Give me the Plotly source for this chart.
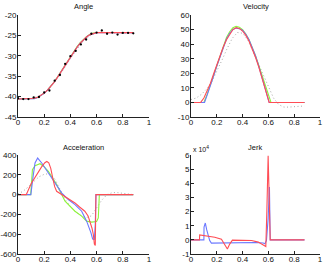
import plotly.graph_objects as go

# ---------------- Angle ----------------
angle_dot_t = [0.00, 0.04, 0.08, 0.12, 0.16, 0.20, 0.24, 0.28, 0.32, 0.36, 0.40, 0.44,
               0.48, 0.52, 0.56, 0.60, 0.64, 0.68, 0.72, 0.76, 0.80, 0.84, 0.88]
angle_dot_v = [-40.4, -40.6, -40.6, -40.2, -40.1, -39.0, -38.5, -36.1, -34.7, -32.0, -30.1, -28.8,
               -27.2, -26.0, -24.6, -24.3, -23.8, -24.6, -24.3, -24.8, -24.4, -24.4, -24.5]

angle_gray_t = angle_dot_t
angle_gray_v = [-40.6, -40.6, -40.5, -40.3, -39.9, -39.2, -38.0, -36.5, -34.7, -32.7, -30.7, -28.8,
                -27.1, -25.8, -24.9, -24.4, -24.2, -24.3, -24.4, -24.5, -24.5, -24.5, -24.5]

angle_fit_t = [0.0, 0.075, 0.1, 0.125, 0.15, 0.175, 0.2, 0.225, 0.25, 0.275, 0.3, 0.325, 0.35,
               0.375, 0.4, 0.425, 0.45, 0.475, 0.5, 0.525, 0.55, 0.575, 0.6, 0.88]
angle_red_v = [-40.6, -40.6, -40.56, -40.42, -40.15, -39.74, -39.16, -38.42, -37.53, -36.5, -35.35,
               -34.12, -32.83, -31.53, -30.26, -29.05, -27.93, -26.92, -26.05, -25.34, -24.81,
               -24.47, -24.32, -24.32]
angle_blue_v = [-40.6, -40.6, -40.6, -40.5, -40.22, -39.78, -39.18, -38.42, -37.52, -36.48, -35.33,
                -34.1, -32.82, -31.53, -30.26, -29.05, -27.93, -26.92, -26.05, -25.34, -24.81,
                -24.47, -24.32, -24.32]
angle_green_v = [-40.6, -40.6, -40.6, -40.48, -40.2, -39.76, -39.16, -38.39, -37.47, -36.42, -35.25,
                 -34.0, -32.7, -31.4, -30.12, -28.92, -27.8, -26.8, -25.94, -25.24, -24.74,
                 -24.42, -24.3, -24.3]

# ---------------- Velocity ----------------
vel_red_t = [0.0, 0.075, 0.1, 0.125, 0.15, 0.175, 0.2, 0.225, 0.25, 0.275, 0.3, 0.325, 0.35,
             0.375, 0.4, 0.425, 0.45, 0.475, 0.5, 0.525, 0.55, 0.575, 0.6, 0.606, 0.88]
vel_red_v = [0, 0, 3, 8, 13, 19.5, 26, 32, 38, 43, 47, 50, 51.3, 50.8, 49, 46, 42, 37, 31,
             24.5, 17, 9.5, 2, 0, 0]
vel_blue_t = [0.0, 0.105, 0.125, 0.15, 0.175, 0.2, 0.225, 0.25, 0.275, 0.3, 0.325, 0.35,
              0.375, 0.4, 0.425, 0.45, 0.475, 0.5, 0.525, 0.55, 0.575, 0.6, 0.606, 0.88]
vel_blue_v = [0, 0, 5, 11, 18, 25, 31.5, 38, 43.5, 47.5, 50, 51, 50.6, 49.5, 46.8, 43, 38, 32,
              25, 17, 9.5, 2, 0, 0]
vel_green_t = [0.0, 0.1, 0.125, 0.15, 0.175, 0.2, 0.225, 0.25, 0.275, 0.3, 0.325, 0.35,
               0.375, 0.4, 0.425, 0.45, 0.475, 0.5, 0.525, 0.55, 0.575, 0.6, 0.62, 0.88]
vel_green_v = [0, 0, 5.5, 12, 19, 26, 32.5, 39, 44.5, 48.5, 51.3, 52.3, 51.6, 50, 47, 43,
               38, 32, 25.5, 19, 12.5, 6, 0, 0]
vel_gray_t = [0.0, 0.04, 0.08, 0.12, 0.16, 0.20, 0.24, 0.28, 0.32, 0.36, 0.40, 0.44, 0.48,
              0.52, 0.56, 0.60, 0.64, 0.68, 0.72, 0.76, 0.80, 0.84, 0.88]
vel_gray_v = [2, 3, 5.5, 9, 14, 21, 29, 37, 44, 48, 47.5, 43, 35, 26, 18, 10, 3, -1.5,
              -3.2, -3.2, -2.8, -2.6, -2.4]

# ---------------- Acceleration ----------------
acc_red_t = [0.0, 0.063, 0.1, 0.14, 0.18, 0.205, 0.22, 0.235, 0.25, 0.265, 0.28, 0.295,
             0.33, 0.36, 0.4, 0.435, 0.47, 0.51, 0.535, 0.55, 0.565, 0.575, 0.583, 0.59,
             0.595, 0.88]
acc_red_v = [0, 0, 110, 200, 280, 322, 335, 320, 265, 170, 80, 33, 5, -17, -55, -84,
             -125, -168, -215, -268, -340, -403, -500, -513, 0, 0]
acc_blue_t = [0.0, 0.098, 0.115, 0.13, 0.15, 0.181, 0.232, 0.282, 0.333, 0.384, 0.435,
              0.486, 0.524, 0.557, 0.57, 0.583, 0.59, 0.595, 0.88]
acc_blue_v = [0, 0, 180, 319, 369, 319, 218, 117, 17, -50, -101, -168, -268, -386, -450,
              -455, -300, 0, 0]
acc_green_t = [0.0, 0.097, 0.11, 0.13, 0.168, 0.2, 0.232, 0.295, 0.359, 0.435, 0.486,
               0.524, 0.562, 0.6, 0.613, 0.621, 0.88]
acc_green_v = [0, 0, 252, 292, 312, 280, 235, 101, -67, -168, -218, -268, -278, -272,
               -235, 0, 0]
acc_gray_t = [0.0, 0.04, 0.08, 0.12, 0.16, 0.20, 0.24, 0.28, 0.32, 0.36, 0.40, 0.44, 0.48,
              0.52, 0.56, 0.60, 0.64, 0.68, 0.72, 0.76, 0.80, 0.84, 0.88]
acc_gray_v = [5, 35, 80, 135, 180, 205, 212, 160, 50, -50, -120, -175, -210, -232, -215,
              -140, -55, 0, 20, 20, 12, 5, 0]

# ---------------- Jerk ----------------
jerk_red_t = [0.0, 0.066, 0.067, 0.12, 0.184, 0.236, 0.262, 0.282, 0.3, 0.321, 0.4, 0.47,
              0.521, 0.56, 0.58, 0.588, 0.593, 0.598, 0.606, 0.614, 0.88]
jerk_red_v = [0, 0, 3500, 2900, 1900, 500, -3000, -6500, -3000, -200, -400, -500,
              -1600, -3500, -4700, 20000, 50000, 59500, 30000, 0, 0]
jerk_blue_t = [0.0, 0.1, 0.101, 0.111, 0.122, 0.132, 0.145, 0.158, 0.2, 0.3, 0.4, 0.5, 0.56,
               0.573, 0.585, 0.598, 0.608, 0.614, 0.88]
jerk_blue_v = [0, 0, 9000, 11900, 7000, 2600, -500, -2300, -2200, -2000, -1900, -1900,
               -2200, -2800, -500, 15000, 37300, 0, 0]

x_ticks = [0, 0.2, 0.4, 0.6, 0.8, 1]
x_ticktext = ["0", "0.2", "0.4", "0.6", "0.8", "1"]
angle_ticks = [-45, -40, -35, -30, -25, -20]
angle_ticktext = ["-45", "-40", "-35", "-30", "-25", "-20"]
vel_ticks = [-10, 0, 10, 20, 30, 40, 50, 60]
vel_ticktext = ["-10", "0", "10", "20", "30", "40", "50", "60"]
acc_ticks = [-600, -400, -200, 0, 200, 400]
acc_ticktext = ["-600", "-400", "-200", "0", "200", "400"]
jerk_ticks = [-10000, 0, 10000, 20000, 30000, 40000, 50000, 60000]
jerk_ticktext = ["-1", "0", "1", "2", "3", "4", "5", "6"]

BLUE = "#6b78ff"
GREEN = "#8cf53a"
RED = "#ff4d55"
GRAY = "#a9a9a9"
LW = 1.1

fig = go.Figure()


def add(x, y, ax, color, dash="solid", width=LW):
    fig.add_trace(go.Scatter(x=x, y=y, mode="lines", xaxis="x" + ax, yaxis="y" + ax,
                             line=dict(color=color, width=width, dash=dash),
                             hoverinfo="skip", showlegend=False))


# Angle
add(angle_gray_t, angle_gray_v, "", GRAY, "1px,2.5px", 1)
add(angle_fit_t, angle_green_v, "", GREEN)
add(angle_fit_t, angle_blue_v, "", BLUE)
add(angle_fit_t, angle_red_v, "", RED)
fig.add_trace(go.Scatter(x=angle_dot_t, y=angle_dot_v, mode="markers", xaxis="x", yaxis="y",
                         marker=dict(color="black", size=2.3), hoverinfo="skip",
                         showlegend=False))
# Velocity
add(vel_gray_t, vel_gray_v, "2", GRAY, "1px,2.5px", 1)
add(vel_green_t, vel_green_v, "2", GREEN)
add(vel_blue_t, vel_blue_v, "2", BLUE)
add(vel_red_t, vel_red_v, "2", RED)
# Acceleration
add(acc_gray_t, acc_gray_v, "3", GRAY, "1px,2.5px", 1)
add(acc_green_t, acc_green_v, "3", GREEN)
add(acc_blue_t, acc_blue_v, "3", BLUE)
add(acc_red_t, acc_red_v, "3", RED)
# Jerk
add(jerk_blue_t, jerk_blue_v, "4", BLUE)
add(jerk_red_t, jerk_red_v, "4", RED)

W, H = 327, 264
FONT = "Liberation Sans, Arial, sans-serif"
TICKFONT = dict(size=8, color="#111", family=FONT)


def xa(x0, x1, anchor):
    return dict(domain=[x0 / W, x1 / W], range=[0, 1], tickvals=x_ticks, ticktext=x_ticktext,
                anchor=anchor, showline=True, linecolor="#222", linewidth=1, mirror=False,
                ticks="inside", ticklen=3, tickcolor="#222", showgrid=False, zeroline=False,
                automargin=False, tickfont=TICKFONT, ticklabelstandoff=-3,
                fixedrange=True)


def ya(top, bot, rng, tv, tt, anchor):
    return dict(domain=[1 - bot / H, 1 - top / H], range=rng, tickvals=tv, ticktext=tt,
                anchor=anchor, showline=True, linecolor="#222", linewidth=1, mirror=False,
                ticks="inside", ticklen=3, tickcolor="#222", showgrid=False, zeroline=False,
                automargin=False, tickfont=TICKFONT, ticklabelstandoff=-1, fixedrange=True)


fig.update_layout(
    width=W, height=H, margin=dict(l=0, r=0, t=0, b=0),
    paper_bgcolor="white", plot_bgcolor="white", showlegend=False,
    font=dict(family=FONT, size=8, color="#111"),
    hovermode=False,
    xaxis=xa(18, 149, "y"),
    yaxis=ya(15, 117, [-45, -20], angle_ticks, angle_ticktext, "x"),
    xaxis2=xa(191, 320, "y2"),
    yaxis2=ya(15, 117, [-10, 60], vel_ticks, vel_ticktext, "x2"),
    xaxis3=xa(18, 149, "y3"),
    yaxis3=ya(155, 254, [-600, 400], acc_ticks, acc_ticktext, "x3"),
    xaxis4=xa(191, 320, "y4"),
    yaxis4=ya(155, 254, [-10000, 60000], jerk_ticks, jerk_ticktext, "x4"),
)

titles = [("Angle", 83, 7), ("Velocity", 256, 7), ("Acceleration", 83, 147), ("Jerk", 255, 147)]
for txt, px, py in titles:
    fig.add_annotation(text=txt, x=px / W, y=1 - py / H, xref="paper", yref="paper",
                       showarrow=False, xanchor="center", yanchor="middle",
                       font=dict(size=7.5, color="#111", family=FONT))
fig.add_annotation(text="x 10<sup>4</sup>", x=191 / W, y=1 - 149 / H, xref="paper",
                   yref="paper", showarrow=False, xanchor="left", yanchor="middle",
                   font=dict(size=7, color="#111", family=FONT))

fig.write_html("out.html", config={"displayModeBar": False, "staticPlot": True},
               post_script="document.body.style.margin='0';document.body.style.padding='0';")
